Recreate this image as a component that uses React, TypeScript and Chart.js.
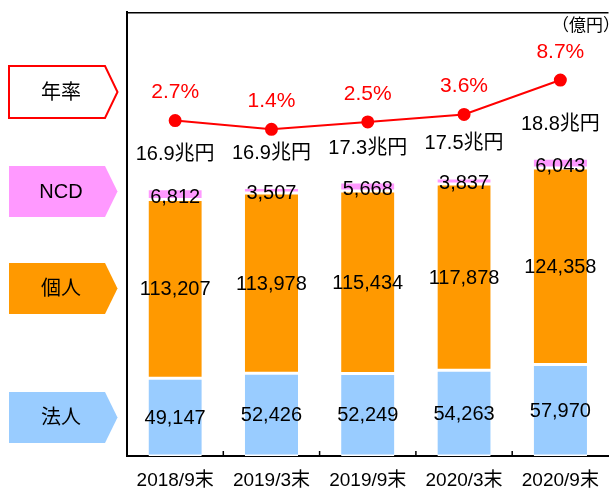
import React, { useEffect, useRef } from "react";
import { Chart, registerables } from "chart.js";

Chart.register(...registerables);

// ---- data ----
const categories = ["2018/9末", "2019/3末", "2019/9末", "2020/3末", "2020/9末"];
const corporate = [49147, 52426, 52249, 54263, 57970]; // 法人
const individual = [113207, 113978, 115434, 117878, 124358]; // 個人
const ncd = [6812, 3507, 5668, 3837, 6043]; // NCD
const totalTrillion = [16.9, 16.9, 17.3, 17.5, 18.8]; // 兆円
const annualRate = [2.7, 1.4, 2.5, 3.6, 8.7]; // 年率 %
const unitLabel = "（億円）";

// ---- styles ----
const BLUE = "#99CCFF";
const ORANGE = "#FF9900";
const PINK = "#FF99FF";
const RED = "#FF0000";
const FONT = '"Liberation Sans", "Noto Sans CJK JP", sans-serif';

const legendBoxes = [
  { label: "年率", top: 66, bottom: 118, fill: "#FFFFFF", stroke: RED },
  { label: "NCD", top: 166, bottom: 217, fill: PINK, stroke: null },
  { label: "個人", top: 263, bottom: 314, fill: ORANGE, stroke: null },
  { label: "法人", top: 392, bottom: 443, fill: BLUE, stroke: null },
];

const fmt = (v: number) => v.toLocaleString("en-US");

const decorPlugin = {
  id: "decor",
  afterDraw(chart: any) {
    const ctx = chart.ctx as CanvasRenderingContext2D;
    const area = chart.chartArea;
    const xScale = chart.scales.x;
    ctx.save();
    // top frame line
    ctx.strokeStyle = "#000";
    ctx.lineWidth = 1.5;
    ctx.beginPath();
    ctx.moveTo(area.left, area.top + 0.75);
    ctx.lineTo(area.right, area.top + 0.75);
    ctx.stroke();
    // inner tick marks at category boundaries
    ctx.lineWidth = 1.5;
    for (let i = 1; i < categories.length; i++) {
      const x = (xScale.getPixelForValue(i - 1) + xScale.getPixelForValue(i)) / 2;
      ctx.beginPath();
      ctx.moveTo(x, area.bottom);
      ctx.lineTo(x, area.bottom - 5);
      ctx.stroke();
    }
    // left legend boxes
    for (const b of legendBoxes) {
      const left = 9, body = 105, tip = 117.5;
      const mid = (b.top + b.bottom) / 2;
      ctx.beginPath();
      ctx.moveTo(left, b.top);
      ctx.lineTo(body, b.top);
      ctx.lineTo(tip, mid);
      ctx.lineTo(body, b.bottom);
      ctx.lineTo(left, b.bottom);
      ctx.closePath();
      ctx.fillStyle = b.fill;
      ctx.fill();
      if (b.stroke) {
        ctx.strokeStyle = b.stroke;
        ctx.lineWidth = 2;
        ctx.stroke();
      }
      ctx.fillStyle = "#000";
      ctx.font = `20px ${FONT}`;
      ctx.textAlign = "center";
      ctx.textBaseline = "middle";
      ctx.fillText(b.label, 61, mid + 1);
    }
    // unit label
    ctx.fillStyle = "#000";
    ctx.font = `17px ${FONT}`;
    ctx.textAlign = "right";
    ctx.textBaseline = "middle";
    ctx.fillText(unitLabel, 620, 26);
    ctx.restore();
  },
};

const labelsPlugin = {
  id: "valueLabels",
  afterDatasetsDraw(chart: any) {
    const ctx = chart.ctx as CanvasRenderingContext2D;
    ctx.save();
    ctx.textAlign = "center";
    ctx.textBaseline = "middle";
    ctx.font = `20px ${FONT}`;
    // bar segment labels
    chart.data.datasets.forEach((ds: any, di: number) => {
      if (ds.type === "line") return;
      const meta = chart.getDatasetMeta(di);
      meta.data.forEach((el: any, i: number) => {
        const y = (el.y + el.base) / 2 + (ds.label === "NCD" ? 2 : 0);
        ctx.fillStyle = "#000";
        ctx.fillText(fmt(ds.data[i]), el.x, y + 1);
      });
    });
    // totals above stacks
    const topMeta = chart.getDatasetMeta(3);
    topMeta.data.forEach((el: any, i: number) => {
      ctx.fillStyle = "#000";
      ctx.fillText(`${totalTrillion[i].toFixed(1)}兆円`, el.x, el.y - 34);
    });
    // rate labels
    const lineMeta = chart.getDatasetMeta(0);
    ctx.font = `21px ${FONT}`;
    lineMeta.data.forEach((el: any, i: number) => {
      ctx.fillStyle = RED;
      ctx.fillText(`${annualRate[i].toFixed(1)}%`, el.x, el.y - 28);
    });
    ctx.restore();
  },
};

export default function App() {
  const ref = useRef<HTMLCanvasElement | null>(null);
  useEffect(() => {
    if (!ref.current) return;
    const segBorder = { top: 1.5, bottom: 1.5, left: 0, right: 0 };
    const chart = new Chart(ref.current, {
      type: "bar",
      data: {
        labels: categories,
        datasets: [
          {
            type: "line",
            label: "年率",
            data: annualRate,
            yAxisID: "y2",
            borderColor: RED,
            backgroundColor: RED,
            borderWidth: 2,
            pointRadius: 5.5,
            pointBackgroundColor: RED,
            pointBorderColor: RED,
            tension: 0,
            order: 0,
          } as any,
          {
            label: "法人",
            data: corporate,
            backgroundColor: BLUE,
            borderColor: "#FFFFFF",
            borderWidth: segBorder,
            borderSkipped: false,
            stack: "s",
            order: 1,
          },
          {
            label: "個人",
            data: individual,
            backgroundColor: ORANGE,
            borderColor: "#FFFFFF",
            borderWidth: segBorder,
            borderSkipped: false,
            stack: "s",
            order: 1,
          },
          {
            label: "NCD",
            data: ncd,
            backgroundColor: PINK,
            borderColor: "#FFFFFF",
            borderWidth: segBorder,
            borderSkipped: false,
            stack: "s",
            order: 1,
          },
        ],
      },
      options: {
        responsive: false,
        animation: false,
        devicePixelRatio: 1,
        layout: { padding: { left: 127, top: 12, right: 0, bottom: 0 } },
        plugins: { legend: { display: false }, tooltip: { enabled: false } },
        datasets: { bar: { categoryPercentage: 1, barPercentage: 0.553 } },
        scales: {
          x: {
            stacked: true,
            offset: true,
            grid: { display: false, drawTicks: false },
            border: { display: true, color: "#000", width: 2 },
            ticks: { color: "#000", font: { size: 19, family: FONT }, padding: 13, maxRotation: 0 },
            afterFit: (s: any) => {
              s.height = 34;
            },
          },
          y: {
            stacked: true,
            min: 0,
            max: 281000,
            grid: { display: false, drawTicks: false },
            border: { display: true, color: "#000", width: 2 },
            ticks: { display: false },
            afterFit: (s: any) => {
              s.width = 0;
            },
          },
          y2: {
            display: false,
            min: -47,
            max: 18.78,
          },
        },
      } as any,
      plugins: [decorPlugin, labelsPlugin],
    });
    return () => chart.destroy();
  }, []);
  return (
    <div style={{ position: "absolute", left: 0, top: 0, width: 613, height: 490, overflow: "hidden", background: "#fff" }}>
      <canvas ref={ref} width={616} height={490} style={{ display: "block", width: 616, height: 490 }} />
    </div>
  );
}
